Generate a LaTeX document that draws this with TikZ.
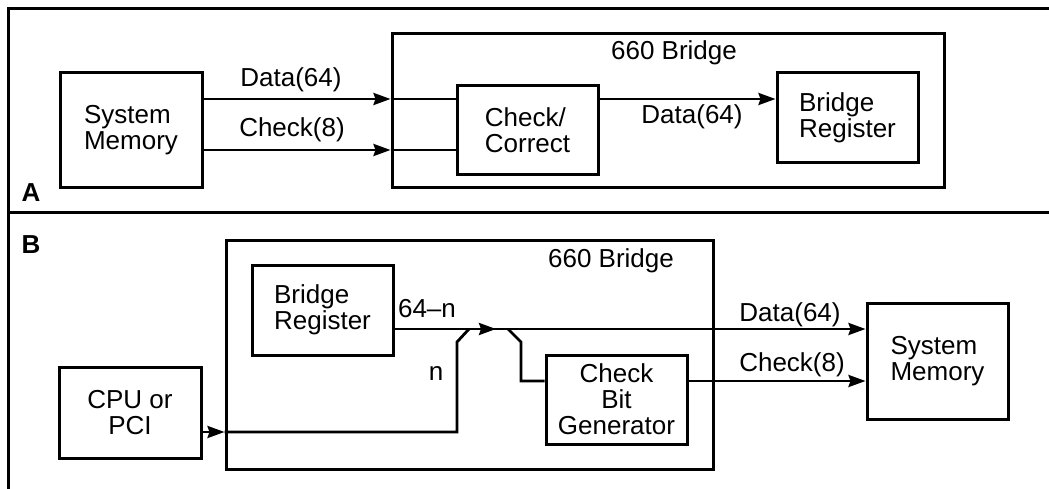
\documentclass[tikz,border=0pt]{standalone}
\usepackage{fontspec}
\setmainfont{Liberation Sans}
\usetikzlibrary{arrows.meta,calc}
\begin{document}
\begin{tikzpicture}[x=1pt,y=-1pt,
  txt/.style={font=\fontsize{26}{26}\selectfont},
  blk/.style={draw,line width=3pt,inner sep=0pt,txt},
  lbl/.style={inner sep=0pt,anchor=base,txt},
  conn/.style={line width=2.8pt},
  arr/.style={conn,-{Stealth[length=17pt,width=12pt,inset=2pt]}},
  frame/.style={line width=3pt}]
\useasboundingbox (0,0) rectangle (1049,489);
% outer frame
\draw[frame] (8,500) -- (8,9) -- (1060,9);
\draw[frame] (8,213) -- (1060,213);

% ---------- Panel A ----------
\node[lbl,font=\fontsize{26}{26}\selectfont\bfseries] (labA) at (31,202) {A};
\node[blk,minimum width=142pt,minimum height=115pt,align=left] (smA) at (131,130.5) {System\\Memory};
\node[blk,minimum width=552pt,minimum height=154pt] (bridgeA) at (668,111) {};
\node[lbl] (bA) at (674,60) {660 Bridge};
\node[blk,minimum width=141pt,minimum height=89pt,align=left] (ccA) at (527.5,130.5) {Check/\\Correct};
\node[blk,minimum width=141pt,minimum height=90pt,align=left] (brA) at (847.5,118) {Bridge\\Register};

\coordinate (dA) at ([yshift=31.5pt]smA.east);
\coordinate (cA) at ([yshift=-19.5pt]smA.east);
\draw[arr] (dA) -- (dA -| bridgeA.west);
\draw[conn] (dA -| bridgeA.west) -- (dA -| ccA.west);
\draw[arr] (cA) -- (cA -| bridgeA.west);
\draw[conn] (cA -| bridgeA.west) -- (cA -| ccA.west);
\draw[arr] (dA -| ccA.east) -- (dA -| brA.west);
\node[lbl] (ldA) at (291,87) {Data(64)};
\node[lbl] (lcA) at (292,137) {Check(8)};
\node[lbl] (ldA2) at (692,124) {Data(64)};

% ---------- Panel B ----------
\node[lbl,font=\fontsize{26}{26}\selectfont\bfseries] (labB) at (31,253) {B};
\node[blk,minimum width=487pt,minimum height=229pt] (bridgeB) at (469.5,354.5) {};
\node[lbl] (bB) at (611,267) {660 Bridge};
\node[blk,minimum width=141pt,minimum height=90pt,align=left] (brB) at (322.5,310) {Bridge\\Register};
\node[blk,minimum width=142pt,minimum height=91pt,align=center] (cpu) at (130,412.5) {CPU or\\PCI};
\node[blk,minimum width=141pt,minimum height=89pt,align=center] (cbg) at (616.5,399.5) {Check\\Bit\\Generator};
\node[blk,minimum width=141pt,minimum height=116pt,align=left] (smB) at (937.5,361) {System\\Memory};

\coordinate (dB) at ([yshift=-19pt]brB.east);
\coordinate (cpuOut) at ([yshift=-19.5pt]cpu.east);
\coordinate (jL) at (457,342);
\coordinate (jLtop) at (469,329);
\coordinate (mid) at (496,329);
\coordinate (jR) at (508,329);
\coordinate (jRb) at (521,342);
\coordinate (cbgIn) at ([yshift=18.5pt]cbg.west);
\coordinate (chkOut) at ([yshift=18.5pt]cbg.east);

\draw[arr] (cpuOut) -- (cpuOut -| bridgeB.west);
\draw[conn,line join=miter] (cpuOut -| bridgeB.west) -- (jL |- cpuOut) -- (jL) -- (jLtop);
\draw[arr] (dB) -- (mid);
\draw[arr] ([xshift=-4pt]mid) -- (dB -| smB.west);
\draw[conn,line join=miter] (jR) -- (jRb) -- (jRb |- cbgIn) -- (cbgIn);
\draw[arr] (chkOut) -- (chkOut -| smB.west);

\node[lbl] (l64n) at (427,317) {64–n};
\node[lbl] (ln) at (436,380) {n};
\node[lbl] (ldB) at (790,321) {Data(64)};
\node[lbl] (lcB) at (792,371) {Check(8)};
\end{tikzpicture}
\end{document}
